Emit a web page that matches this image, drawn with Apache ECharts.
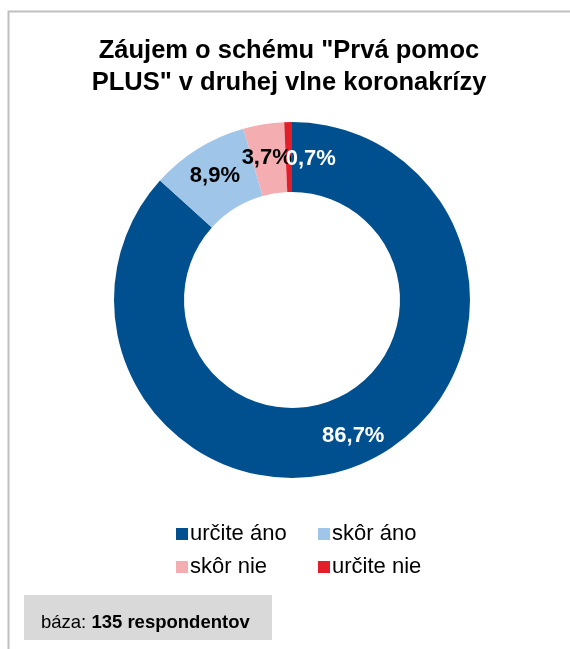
<!DOCTYPE html>
<html>
<head>
<meta charset="utf-8">
<script src="https://cdn.jsdelivr.net/npm/echarts@6/dist/echarts.min.js"></script>
<style>
  html, body { margin: 0; padding: 0; background: #fff; }
  #chart { width: 570px; height: 649px; }
</style>
</head>
<body>
<div id="chart"></div>
<script>
// údaje z grafu
var categories = ['určite áno', 'skôr áno', 'skôr nie', 'určite nie'];
var values = [86.7, 8.9, 3.7, 0.7];
var colors = ['#00508f', '#9fc5e8', '#f4adb1', '#e31e2b'];
var labelColors = ['#fff', '#000', '#000', '#fff'];
var labelOffsets = [[2, 2], [0, 0], [-2, 2], [22, 5]];
var titleText = 'Záujem o schému "Prvá pomoc\nPLUS" v druhej vlne koronakrízy';

var chart = echarts.init(document.getElementById('chart'));

var data = [];
for (var i = 0; i < categories.length; i++) {
  data.push({
    name: categories[i],
    value: values[i],
    itemStyle: { color: colors[i] },
    label: { color: labelColors[i], offset: labelOffsets[i] }
  });
}

// legenda 2x2 - každá položka zvlášť
var legendPos = [[171, 518], [313, 518], [171, 551], [313, 551]];
var legends = categories.map(function (c, i) {
  return {
    data: [c],
    left: legendPos[i][0],
    top: legendPos[i][1],
    itemWidth: 12,
    itemHeight: 12,
    itemGap: 4,
    icon: 'rect',
    selectedMode: false,
    textStyle: { fontFamily: 'Liberation Sans, Arial', fontSize: 22, color: '#000', padding: [0, 0, 0, -3] }
  };
});

var option = {
  animation: false,
  backgroundColor: '#fff',
  title: {
    text: titleText,
    left: 284,
    top: 30,
    textAlign: 'center',
    textStyle: {
      fontFamily: 'Liberation Sans, Arial',
      fontSize: 25.5,
      fontWeight: 'bold',
      color: '#000',
      lineHeight: 32
    }
  },
  legend: legends,
  graphic: [
    { type: 'line', shape: { x1: 8, y1: 11.5, x2: 570, y2: 11.5 }, style: { stroke: '#bfbfbf', lineWidth: 2 } },
    { type: 'line', shape: { x1: 8.5, y1: 11, x2: 8.5, y2: 649 }, style: { stroke: '#bfbfbf', lineWidth: 2 } },
    { type: 'rect', shape: { x: 24, y: 595, width: 248, height: 45 }, style: { fill: '#d9d9d9' } },
    {
      type: 'text', left: 41, top: 613,
      style: {
        text: '{a|báza: }{b|135 respondentov}',
        rich: {
          a: { fontFamily: 'Liberation Sans, Arial', fontSize: 18.5, color: '#000' },
          b: { fontFamily: 'Liberation Sans, Arial', fontSize: 18.5, fontWeight: 'bold', color: '#000' }
        }
      }
    }
  ],
  series: [{
    type: 'pie',
    center: [292, 300],
    radius: [108, 178],
    startAngle: 90,
    clockwise: true,
    avoidLabelOverlap: false,
    minShowLabelAngle: 0,
    labelLayout: { hideOverlap: false },
    label: {
      show: true,
      position: 'inside',
      fontFamily: 'Liberation Sans, Arial',
      fontSize: 22,
      fontWeight: 'bold',
      formatter: function (p) { return p.value.toFixed(1).replace('.', ',') + '%'; }
    },
    labelLine: { show: false },
    emphasis: { disabled: true },
    data: data
  }]
};

chart.setOption(option);
</script>
</body>
</html>
